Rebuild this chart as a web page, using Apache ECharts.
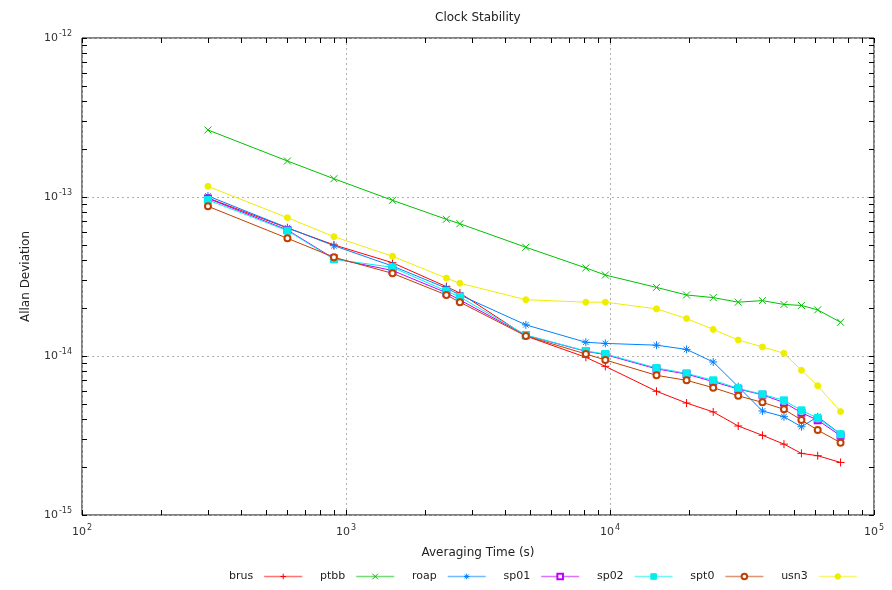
<!DOCTYPE html>
<html>
<head>
<meta charset="utf-8">
<script src="https://cdn.jsdelivr.net/npm/echarts@6/dist/echarts.min.js"></script>
<style>
html,body{margin:0;padding:0;background:#fff;}
#chart{width:892px;height:590px;}
</style>
</head>
<body>
<div id="chart"></div>
<script>
// averaging times (s)
var tau = [300, 600, 900, 1500, 2400, 2700, 4800, 8100, 9600, 15000, 19500, 24600, 30600, 37800, 45600, 53100, 61200, 74700];

var brus = [9.86e-14, 6.38e-14, 5.0e-14, 3.86e-14, 2.73e-14, 2.49e-14, 1.336e-14, 9.81e-15, 8.61e-15, 6.0e-15, 5.06e-15, 4.45e-15, 3.63e-15, 3.17e-15, 2.79e-15, 2.44e-15, 2.36e-15, 2.14e-15];
var ptbb = [2.64e-13, 1.684e-13, 1.303e-13, 9.53e-14, 7.24e-14, 6.79e-14, 4.83e-14, 3.58e-14, 3.23e-14, 2.70e-14, 2.42e-14, 2.33e-14, 2.18e-14, 2.23e-14, 2.11e-14, 2.08e-14, 1.95e-14, 1.63e-14];
var roap = [1.015e-13, 6.41e-14, 4.94e-14, 3.68e-14, 2.67e-14, 2.42e-14, 1.57e-14, 1.22e-14, 1.20e-14, 1.17e-14, 1.10e-14, 9.17e-15, 6.41e-15, 4.51e-15, 4.15e-15, 3.59e-15, 4.15e-15, 3.23e-15];
var sp01 = [9.8e-14, 6.2e-14, 4.1e-14, 3.45e-14, 2.5e-14, 2.25e-14, 1.35e-14, 1.07e-14, 1.02e-14, 8.3e-15, 7.7e-15, 6.9e-15, 6.2e-15, 5.7e-15, 5.1e-15, 4.4e-15, 3.95e-15, 3.15e-15];
var sp02 = [9.58e-14, 6.14e-14, 4.06e-14, 3.61e-14, 2.56e-14, 2.35e-14, 1.355e-14, 1.075e-14, 1.03e-14, 8.41e-15, 7.78e-15, 7.03e-15, 6.26e-15, 5.74e-15, 5.26e-15, 4.55e-15, 4.07e-15, 3.22e-15];
var spt0 = [8.74e-14, 5.50e-14, 4.18e-14, 3.31e-14, 2.42e-14, 2.18e-14, 1.336e-14, 1.03e-14, 9.44e-15, 7.56e-15, 7.03e-15, 6.32e-15, 5.62e-15, 5.11e-15, 4.62e-15, 3.96e-15, 3.42e-15, 2.85e-15];
var usn3 = [1.167e-13, 7.41e-14, 5.63e-14, 4.24e-14, 3.09e-14, 2.87e-14, 2.26e-14, 2.18e-14, 2.18e-14, 1.98e-14, 1.72e-14, 1.47e-14, 1.26e-14, 1.14e-14, 1.04e-14, 8.13e-15, 6.50e-15, 4.47e-15];

var names = ['brus', 'ptbb', 'roap', 'sp01', 'sp02', 'spt0', 'usn3'];
var values = [brus, ptbb, roap, sp01, sp02, spt0, usn3];
var colors = ['#ff0000', '#00c000', '#0080ff', '#c000ff', '#00eeee', '#c04000', '#eeee00'];
var symbols = [
  'path://M5,0L5,10M0,5L10,5',
  'path://M0,0L10,10M0,10L10,0',
  'path://M5,0L5,10M0,5L10,5M1.5,1.5L8.5,8.5M1.5,8.5L8.5,1.5',
  'emptyRect', 'rect', 'emptyCircle', 'circle'
];
var sizes = [8, 7, 8, 6, 7, 6, 6];

var xMajor = [100, 1000, 10000, 100000];
var yMajor = [1e-15, 1e-14, 1e-13, 1e-12];

function logTicks(lo, hi) {
  var out = [];
  for (var e = lo; e < hi; e++) {
    for (var m = 1; m < 10; m++) out.push(m * Math.pow(10, e));
  }
  out.push(Math.pow(10, hi));
  return out;
}
var xMinor = logTicks(2, 5);
var yMinor = logTicks(-15, -12);

var font = 'DejaVu Sans';
var rich = { e: { fontSize: 8, fontFamily: font, color: '#333', padding: [0, 0, 8, 1] } };
function fmt(v) {
  return '10{e|' + Math.round(Math.log10(v)) + '}';
}

function tickAxis(pos, lo, hi, list) {
  return {
    type: 'log', position: pos, min: lo, max: hi, logBase: 10,
    axisLine: { show: false },
    axisTick: { show: true, inside: true, length: 5, customValues: list, lineStyle: { color: '#000' } },
    axisLabel: { show: false },
    splitLine: { show: false }
  };
}

var myChart = echarts.init(document.getElementById('chart'));

var series = [];
for (var i = 0; i < names.length; i++) {
  var d = [];
  for (var j = 0; j < tau.length; j++) d.push([tau[j], values[i][j]]);
  series.push({
    name: names[i], type: 'line', data: d,
    symbol: symbols[i], symbolSize: sizes[i],
    lineStyle: { color: colors[i], width: 1 },
    itemStyle: { color: colors[i], borderColor: colors[i], borderWidth: 1 },
    emphasis: { disabled: true },
    animation: false
  });
}

var option = {
  animation: false,
  color: colors,
  title: {
    text: 'Clock Stability', left: 430, top: 7,
    textStyle: { fontFamily: font, fontSize: 12, fontWeight: 'normal', color: '#222' }
  },
  grid: { left: 82, right: 18, top: 38, bottom: 75, show: true, borderColor: '#000', borderWidth: 1, backgroundColor: 'transparent' },
  legend: {
    bottom: 3, left: 224, align: 'right', itemWidth: 38, itemHeight: 7, itemGap: 17,
    textStyle: { fontFamily: font, fontSize: 11, color: '#222', padding: [0, 6, 0, 0] },
    lineStyle: { width: 1.5, opacity: 0.55 },
    itemStyle: { borderWidth: 1 },
    data: names
  },
  xAxis: [
    {
      type: 'log', position: 'bottom', min: 100, max: 100000, logBase: 10,
      name: 'Averaging Time (s)', nameLocation: 'middle', nameGap: 32,
      nameTextStyle: { fontFamily: font, fontSize: 12, color: '#222' },
      axisLine: { show: false },
      axisTick: { show: false },
      axisLabel: { margin: 9, fontFamily: font, fontSize: 11, color: '#333', customValues: xMajor, formatter: fmt, rich: rich },
      splitLine: { show: true, lineStyle: { color: '#b0b0b0', type: [2, 3], width: 1 } }
    },
    tickAxis('bottom', 100, 100000, xMinor),
    tickAxis('top', 100, 100000, xMinor)
  ],
  yAxis: [
    {
      type: 'log', position: 'left', min: 1e-15, max: 1e-12, logBase: 10,
      name: 'Allan Deviation', nameLocation: 'middle', nameGap: 50,
      nameTextStyle: { fontFamily: font, fontSize: 12, color: '#222' },
      axisLine: { show: false },
      axisTick: { show: false },
      axisLabel: { margin: 10, fontFamily: font, fontSize: 11, color: '#333', customValues: yMajor, formatter: fmt, rich: rich },
      splitLine: { show: true, lineStyle: { color: '#b0b0b0', type: [2, 3], width: 1 } }
    },
    tickAxis('left', 1e-15, 1e-12, yMinor),
    tickAxis('right', 1e-15, 1e-12, yMinor)
  ],
  series: series
};

myChart.setOption(option);
</script>
</body>
</html>
